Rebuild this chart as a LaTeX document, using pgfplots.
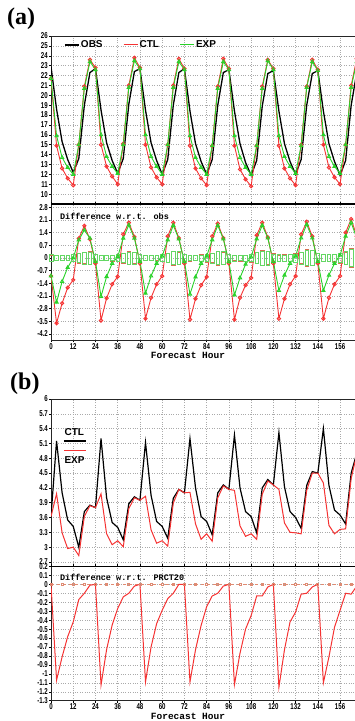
\documentclass[border=0pt]{standalone}
\usepackage{pgfplots}
\pgfplotsset{compat=1.18}
\usepackage{pgfplotstable}
\usepackage{fontspec}
\setmainfont{Liberation Sans}
\newfontfamily\tickfont[FakeStretch=0.72]{Liberation Sans}
\newfontfamily\monofont{Liberation Mono}
\newfontfamily\serifb{Liberation Serif}
\definecolor{cred}{RGB}{245,50,50}
\definecolor{cgreen}{RGB}{40,210,40}
\definecolor{bred}{RGB}{215,110,80}
\definecolor{bgreen}{RGB}{100,215,100}
\definecolor{gridc}{RGB}{170,170,170}

% (a) upper: temperature
\pgfplotstableread{
t obs ctl exp
0 22.9 21.7 21.7
3 18.6 14.9 15.9
6 15.3 12.6 13.7
9 13.5 11.6 12.7
12 12.2 10.9 12.0
15 13.6 15.0 15.0
18 19.0 20.9 20.7
21 22.3 23.6 23.4
24 22.7 22.8 22.6
27 18.5 15.0 16.0
30 15.2 12.8 13.8
33 13.4 11.8 12.8
36 12.1 11.0 12.1
39 13.6 15.1 15.0
42 19.1 21.0 20.8
45 22.4 23.8 23.5
48 22.7 22.8 22.7
51 18.5 15.0 16.0
54 15.2 12.7 13.8
57 13.4 11.7 12.8
60 12.0 11.0 12.0
63 13.5 15.0 15.0
66 19.0 21.0 20.8
69 22.3 23.7 23.4
72 22.7 22.7 22.6
75 18.4 14.9 15.9
78 15.1 12.6 13.7
81 13.3 11.6 12.7
84 12.0 10.9 12.0
87 13.5 14.9 14.9
90 19.0 20.9 20.7
93 22.3 23.7 23.4
96 22.6 22.7 22.6
99 18.4 14.9 15.9
102 15.1 12.5 13.7
105 13.2 11.5 12.7
108 11.9 10.8 12.0
111 13.4 14.9 14.9
114 18.9 20.9 20.7
117 22.2 23.6 23.5
120 22.5 22.7 22.6
123 18.4 14.9 15.9
126 15.1 12.6 13.8
129 13.3 11.6 12.8
132 12.0 10.9 12.1
135 13.5 15.0 14.9
138 19.0 20.9 20.8
141 22.2 23.6 23.4
144 22.5 22.6 22.5
147 18.4 15.0 16.0
150 15.1 12.7 13.8
153 13.3 11.7 12.8
156 11.9 11.0 12.1
159 13.4 15.0 15.0
162 19.0 21.0 20.8
165 22.3 23.7 23.4
168 22.6 22.7 22.6
}\tabA

% (a) lower: differences and box half-heights
\pgfplotstableread{
t dctl dexp hg hr z
0 -0.99 -0.99 0.18 0.16 0
3 -3.60 -2.44 0.14 0.12 0
6 -2.50 -1.30 0.13 0.14 0
9 -1.64 -0.53 0.15 0.13 0
12 -1.21 0.00 0.18 0.20 0
15 1.08 1.00 0.25 0.28 0
18 1.78 1.54 0.33 0.30 0
21 1.03 1.09 0.33 0.35 0
24 -0.30 -0.20 0.18 0.20 0
27 -3.45 -2.13 0.14 0.15 0
30 -2.22 -1.03 0.13 0.12 0
33 -1.45 -0.30 0.15 0.17 0
36 -1.03 0.07 0.18 0.16 0
39 1.31 1.09 0.25 0.27 0
42 1.95 1.82 0.33 0.36 0
45 1.17 1.09 0.33 0.31 0
48 -0.30 -0.20 0.19 0.21 0
51 -3.35 -1.95 0.15 0.14 0
54 -2.20 -1.00 0.14 0.15 0
57 -1.45 -0.30 0.16 0.14 0
60 -1.00 0.10 0.19 0.21 0
63 1.20 1.00 0.26 0.24 0
66 1.95 1.80 0.35 0.38 0
69 1.10 1.05 0.35 0.33 0
72 -0.30 -0.20 0.20 0.18 0
75 -3.40 -2.00 0.15 0.16 0
78 -2.25 -1.05 0.14 0.13 0
81 -1.50 -0.30 0.17 0.18 0
84 -1.05 0.10 0.20 0.22 0
87 1.20 1.00 0.28 0.26 0
90 1.90 1.80 0.36 0.39 0
93 1.10 1.05 0.36 0.34 0
96 -0.30 -0.20 0.21 0.23 0
99 -3.40 -2.05 0.16 0.15 0
102 -2.20 -1.10 0.15 0.16 0
105 -1.50 -0.35 0.17 0.16 0
108 -1.10 0.05 0.21 0.23 0
111 1.25 1.05 0.29 0.31 0
114 1.95 1.80 0.38 0.42 0
117 1.15 1.10 0.38 0.36 0
120 -0.30 -0.20 0.23 0.25 0
123 -3.35 -1.80 0.18 0.17 0
126 -2.25 -0.95 0.17 0.18 0
129 -1.45 -0.30 0.20 0.18 0
132 -1.00 0.10 0.23 0.25 0
135 1.30 1.10 0.33 0.30 0
138 2.00 1.85 0.43 0.47 0
141 1.20 1.10 0.43 0.40 0
144 -0.30 -0.20 0.26 0.28 0
147 -3.35 -1.80 0.20 0.19 0
150 -2.20 -0.95 0.19 0.21 0
153 -1.45 -0.30 0.22 0.20 0
156 -1.00 0.15 0.26 0.28 0
159 1.40 1.20 0.36 0.33 0
162 2.15 1.95 0.48 0.52 0
165 1.20 1.10 0.48 0.45 0
168 -0.30 -0.20 0.28 0.30 0
}\tabAB

% (b) upper
\pgfplotstableread{
t ctl exp
0 3.62 3.62
3 5.15 4.08
6 4.10 3.29
9 3.55 2.97
12 3.42 3.00
15 3.00 2.83
18 3.72 3.62
21 3.85 3.84
24 3.80 3.80
27 5.20 4.08
30 4.00 3.27
33 3.50 3.05
36 3.40 3.13
39 3.15 3.01
42 3.88 3.78
45 4.02 4.00
48 3.95 3.95
51 5.12 4.03
54 4.05 3.35
57 3.52 3.08
60 3.42 3.13
63 3.18 3.02
66 3.99 3.89
69 4.17 4.17
72 4.10 4.10
75 5.20 4.11
78 4.20 3.47
81 3.62 3.16
84 3.52 3.27
87 3.25 3.12
90 4.10 4.00
93 4.26 4.24
96 4.17 4.17
99 5.27 4.15
102 4.20 3.43
105 3.72 3.22
108 3.62 3.27
111 3.29 3.16
114 4.20 4.07
117 4.37 4.34
120 4.26 4.26
123 5.32 4.17
126 4.22 3.49
129 3.72 3.30
132 3.60 3.29
135 3.38 3.27
138 4.25 4.15
141 4.53 4.50
144 4.50 4.50
147 5.40 4.30
150 4.25 3.44
153 3.75 3.27
156 3.65 3.36
159 3.47 3.37
162 4.50 4.39
165 4.90 4.88
168 4.90 4.90
}\tabB

% (b) lower
\pgfplotstableread{
t diff zero
0 0 0
3 -1.07 0
6 -0.81 0
9 -0.585 0
12 -0.42 0
15 -0.17 0
18 -0.10 0
21 -0.01 0
24 0 0
27 -1.125 0
30 -0.73 0
33 -0.455 0
36 -0.27 0
39 -0.14 0
42 -0.10 0
45 -0.02 0
48 0 0
51 -1.09 0
54 -0.70 0
57 -0.44 0
60 -0.29 0
63 -0.16 0
66 -0.10 0
69 0 0
72 0 0
75 -1.09 0
78 -0.73 0
81 -0.46 0
84 -0.25 0
87 -0.13 0
90 -0.10 0
93 -0.02 0
96 0 0
99 -1.12 0
102 -0.77 0
105 -0.50 0
108 -0.35 0
111 -0.13 0
114 -0.13 0
117 -0.03 0
120 0 0
123 -1.15 0
126 -0.73 0
129 -0.42 0
132 -0.31 0
135 -0.11 0
138 -0.10 0
141 -0.03 0
144 0 0
147 -1.10 0
150 -0.81 0
153 -0.48 0
156 -0.29 0
159 -0.10 0
162 -0.11 0
165 -0.02 0
168 0 0
}\tabBB

\pgfplotsset{
  base/.style={
    scale only axis, width=311.3pt, xmin=0, xmax=168,
    xtick={0,12,...,156},
    grid=major,
    major grid style={gridc, dash pattern=on 0.8pt off 1.6pt, line width=0.5pt},
    axis line style={line width=0.7pt, black!85},
    tick align=outside, major tick length=2pt,
    tick style={black, line width=0.5pt},
    ticklabel style={font=\tickfont\bfseries\fontsize{8.5}{9}\selectfont},
    /pgf/number format/assume math mode=true,
    yticklabel style={inner sep=1pt},
    xticklabel style={inner sep=1pt},
    anchor=north west,
  },
  toppanel/.style={xticklabels={}, xtick style={draw=none}},
  botpanel/.style={
    xlabel={Forecast Hour},
    xlabel style={font=\monofont\bfseries\fontsize{9.5}{10}\selectfont,
      at={(axis description cs:0.44,0)}, anchor=north, yshift=-9pt},
    extra description/.code={\draw[line width=1.4pt] (0,1) -- (1,1);},
  },
  ctlst/.style={cred, line width=0.9pt, mark=o, mark size=1.7pt, mark options={solid}},
  expst/.style={cgreen, line width=0.9pt, mark=triangle, mark size=1.9pt, mark options={solid}},
}

\begin{document}
\begin{tikzpicture}
\useasboundingbox (0,0) rectangle (355pt,-721pt);
\clip (0,0) rectangle (355pt,-721pt);

\node[anchor=north west, inner sep=0pt, font=\serifb\bfseries\fontsize{24}{24}\selectfont] at (7pt,-8pt) {(a)};
\node[anchor=north west, inner sep=0pt, font=\serifb\bfseries\fontsize{24}{24}\selectfont] at (10pt,-373pt) {(b)};

% (a) upper
\begin{axis}[base, toppanel, at={(51pt,-36pt)}, height=168pt,
  ymin=9, ymax=26, ytick={10,11,...,26},
  legend columns=3,
  legend style={draw=none, fill=none, at={(axis cs:7.0,25.1)}, anchor=west,
    font=\bfseries\fontsize{10}{10}\selectfont, inner sep=0pt,
    /tikz/every even column/.append style={column sep=19pt},
    nodes={inner sep=1.5pt}},
  legend image code/.code={\draw[#1] (0pt,0pt) -- (14pt,0pt);},
]
\addlegendimage{black, line width=1.3pt}\addlegendentry{OBS}
\addlegendimage{cred, line width=1pt}\addlegendentry{CTL}
\addlegendimage{cgreen, line width=1pt}\addlegendentry{EXP}
\addplot[black, line width=1.3pt, mark=none, forget plot] table[x=t, y=obs] \tabA;
\addplot[ctlst, forget plot] table[x=t, y=ctl] \tabA;
\addplot[expst, forget plot] table[x=t, y=exp] \tabA;
\end{axis}

% (a) lower
\begin{axis}[base, botpanel, at={(51pt,-204pt)}, height=136pt,
  ymin=-4.53, ymax=2.98,
  ytick={-4.2,-3.5,-2.8,-2.1,-1.4,-0.7,0,0.7,1.4,2.1,2.8},
]
\addplot[scatter, only marks, mark=square, mark size=1.8pt, point meta=x,
  scatter/use mapped color={draw=bred, fill=none},
  visualization depends on={\thisrow{hr}*10.06 \as \ys},
  scatter/@pre marker code/.append style={/tikz/yscale=\ys},
  mark options={line width=0.6pt}] table[x=t, y=z] \tabAB;
\addplot[scatter, only marks, mark=square, mark size=1.8pt, point meta=x,
  scatter/use mapped color={draw=bgreen, fill=none},
  visualization depends on={\thisrow{hg}*10.06 \as \ys},
  scatter/@pre marker code/.append style={/tikz/yscale=\ys},
  mark options={line width=0.6pt}] table[x=t, y=z] \tabAB;
\addplot[ctlst] table[x=t, y=dctl] \tabAB;
\addplot[expst] table[x=t, y=dexp] \tabAB;
\node[anchor=west, inner sep=0pt, font=\monofont\bfseries\fontsize{8.5}{9}\selectfont] at (axis cs:4.8,2.31) {Difference w.r.t. obs};
\end{axis}

% (b) upper
\begin{axis}[base, toppanel, at={(51pt,-399pt)}, height=167.4pt,
  ymin=2.61, ymax=6,
  ytick={2.7,3,3.3,3.6,3.9,4.2,4.5,4.8,5.1,5.4,5.7,6},
]
\addplot[black, line width=1.2pt, mark=none] table[x=t, y=ctl] \tabB;
\addplot[cred, line width=1.0pt, mark=none] table[x=t, y=exp] \tabB;
\node[anchor=west, inner sep=0pt, font=\bfseries\fontsize{10}{10}\selectfont] at (axis cs:7.2,5.34) {CTL};
\draw[black, line width=1.2pt] (axis cs:7.0,5.15) -- (axis cs:18.9,5.15);
\draw[cred, line width=1.0pt] (axis cs:7.0,4.95) -- (axis cs:18.9,4.95);
\node[anchor=west, inner sep=0pt, font=\bfseries\fontsize{10}{10}\selectfont] at (axis cs:7.2,4.76) {EXP};
\end{axis}

% (b) lower
\begin{axis}[base, botpanel, at={(51pt,-566.4pt)}, height=134.3pt,
  ymin=-1.3, ymax=0.2,
  ytick={-1.3,-1.2,-1.1,-1,-0.9,-0.8,-0.7,-0.6,-0.5,-0.4,-0.3,-0.2,-0.1,0,0.1,0.2},
]
\addplot[bred!80, dashed, line width=0.7pt, mark=square, mark size=1pt, mark options={solid}, mark repeat=2] table[x=t, y=zero] \tabBB;
\addplot[cred, line width=1.0pt, mark=none] table[x=t, y=diff] \tabBB;
\node[anchor=west, inner sep=0pt, font=\monofont\bfseries\fontsize{8.5}{9}\selectfont] at (axis cs:4.8,0.08) {Difference w.r.t. PRCT20};
\end{axis}
\end{tikzpicture}
\end{document}
